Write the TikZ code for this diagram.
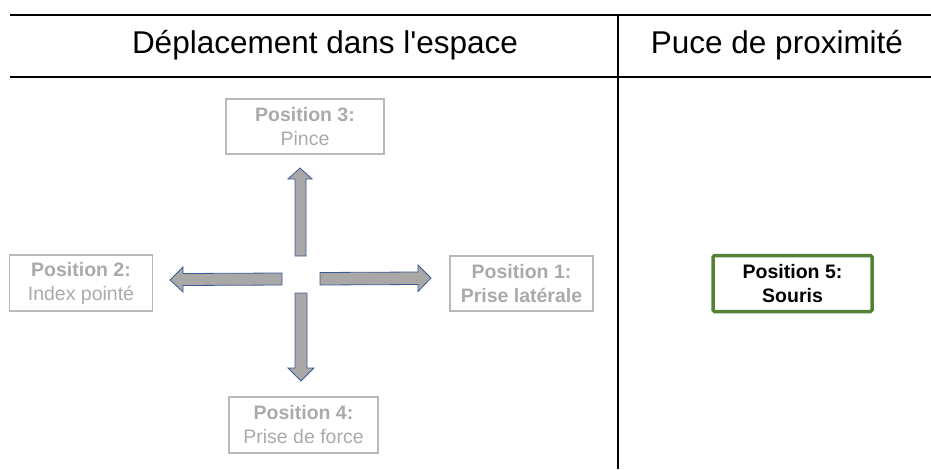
\documentclass[tikz,border=0pt]{standalone}
\usepackage{fontspec}
\setmainfont{Liberation Sans}[Ligatures=TeXOff]
\definecolor{txtgray}{RGB}{170,170,170}
\definecolor{boxgray}{RGB}{185,185,185}
\definecolor{arrfill}{RGB}{170,167,167}
\definecolor{arrline}{RGB}{60,90,150}
\definecolor{greenb}{RGB}{84,130,53}
\begin{document}
\begin{tikzpicture}[x=1pt,y=-1pt,
  posbox/.style={draw=boxgray,line width=1.1pt,align=center,text=txtgray,inner sep=0pt,
     font=\fontsize{19.5}{24}\selectfont},
  greenbox/.style={draw=greenb,line width=3.5pt,rounded corners=1.5pt,align=center,text=black,inner sep=0pt,
     font=\fontsize{19.5}{24}\selectfont},
  header/.style={font=\fontsize{31.5}{36}\selectfont},
  rule/.style={line width=2pt,black},
  fatarrow/.style={fill=arrfill,draw=arrline,line width=0.8pt,line join=miter}]
\useasboundingbox (0,0) rectangle (931,469);
% table lines
\coordinate (tl) at (10,15);
\coordinate (tr) at (931,15);
\coordinate (ml) at (10,77);
\coordinate (mr) at (931,77);
\coordinate (vt) at (618,15);
\coordinate (vb) at (618,469);
\draw[rule] (tl) -- (tr);
\draw[rule] (ml) -- (mr);
\draw[rule] (vt) -- (vb);
% headers
\node[header] (h1) at (325,45) {Déplacement dans l'espace};
\node[header] (h2) at (777,45) {Puce de proximité};
% boxes
\node[posbox,minimum width=158pt,minimum height=55pt] (p3) at (305,126.5)
  {\textbf{Position 3:}\\Pince};
\node[posbox,minimum width=143pt,minimum height=56pt] (p2) at (81,283)
  {\textbf{Position 2:}\\Index pointé};
\node[posbox,minimum width=143pt,minimum height=55pt] (p1) at (521.5,283.5)
  {\textbf{Position 1:}\\\textbf{Prise latérale}};
\node[posbox,minimum width=149pt,minimum height=56pt] (p4) at (303.5,425)
  {\textbf{Position 4:}\\Prise de force};
\node[greenbox,minimum width=159pt,minimum height=56pt] (p5) at (792.5,283.5)
  {\textbf{Position 5:}\\\textbf{Souris}};
% block arrows
% up
\draw[fatarrow] (295,256) -- (295,179) -- (288,179) -- (300,168) -- (312,179) -- (306,179) -- (306,256) -- cycle;
% left
\draw[fatarrow] (282,273) -- (183,273.5) -- (183,267) -- (170,280) -- (183,292) -- (183,285.5) -- (282,285) -- cycle;
% right
\draw[fatarrow] (320,272.5) -- (418,272) -- (418,265) -- (431,278) -- (418,291.5) -- (418,284.5) -- (320,285) -- cycle;
% down
\draw[fatarrow] (295,293) -- (295,368) -- (288,368) -- (301,381) -- (314,368) -- (307,368) -- (307,293) -- cycle;
\end{tikzpicture}
\end{document}
